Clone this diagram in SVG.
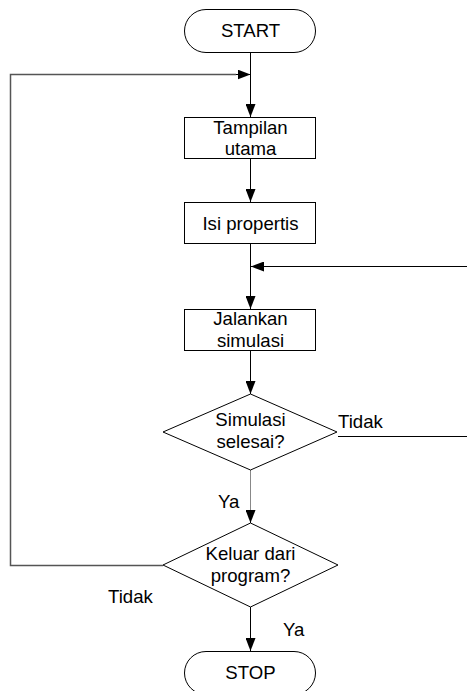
<svg xmlns="http://www.w3.org/2000/svg" width="467" height="691" viewBox="0 0 467 691">
<style>
.shape{fill:#fff;stroke:#000;stroke-width:1}
.t{font-family:"Liberation Sans",Arial,sans-serif;font-size:18.6px;fill:#000}
.c{text-anchor:middle}
.ln{fill:none;stroke:#000;stroke-width:1}
.gray{fill:none;stroke:#555;stroke-width:1.5}
.thin{fill:none;stroke:#888;stroke-width:1}
</style>
<defs>
<marker id="ah" markerUnits="userSpaceOnUse" markerWidth="13" markerHeight="10" refX="13" refY="5" orient="auto">
<path d="M0,0 L13,5 L0,10 z" fill="#000"/>
</marker>
</defs>
<g id="connectors">
<line class="ln" x1="250.5" y1="53" x2="250.5" y2="117" marker-end="url(#ah)"/>
<path class="gray" d="M163,565.5 H10.5 V74.5 H236"/>
<line class="ln" x1="236" y1="74.5" x2="250.5" y2="74.5" marker-end="url(#ah)"/>
<line class="ln" x1="250.5" y1="159" x2="250.5" y2="202" marker-end="url(#ah)"/>
<line class="ln" x1="250.5" y1="244" x2="250.5" y2="309" marker-end="url(#ah)"/>
<line class="ln" x1="467" y1="266.5" x2="251" y2="266.5" marker-end="url(#ah)"/>
<line class="ln" x1="250.5" y1="351" x2="250.5" y2="394" marker-end="url(#ah)"/>
<line class="ln" x1="338" y1="436.5" x2="467" y2="436.5"/>
<line class="thin" x1="250.5" y1="470" x2="250.5" y2="512"/>
<line class="ln" x1="250.5" y1="510" x2="250.5" y2="523" marker-end="url(#ah)"/>
<line class="ln" x1="250.5" y1="607" x2="250.5" y2="651" marker-end="url(#ah)"/>
<text class="t" x="338" y="427.5">Tidak</text>
<text class="t" x="218" y="507.5">Ya</text>
<text class="t" x="108" y="602.5">Tidak</text>
<text class="t" x="283" y="636">Ya</text>
</g>
<g id="start">
<rect class="shape" x="184.5" y="9.5" width="131" height="43" rx="21.5"/>
<text class="t c" x="250.5" y="37">START</text>
</g>
<g id="tampilan">
<rect class="shape" x="184.5" y="117.5" width="131" height="41"/>
<text class="t c" x="250.5" y="133.5">Tampilan</text>
<text class="t c" x="250.5" y="155">utama</text>
</g>
<g id="isi">
<rect class="shape" x="184.5" y="202.5" width="131" height="41"/>
<text class="t c" x="250.5" y="229.5">Isi propertis</text>
</g>
<g id="jalankan">
<rect class="shape" x="184.5" y="309.5" width="131" height="41"/>
<text class="t c" x="250.5" y="325">Jalankan</text>
<text class="t c" x="250.5" y="347">simulasi</text>
</g>
<g id="selesai">
<polygon class="shape" points="250.5,394 337,432 250.5,470 163,432"/>
<text class="t c" x="250.5" y="425.5">Simulasi</text>
<text class="t c" x="250.5" y="448">selesai?</text>
</g>
<g id="keluar">
<polygon class="shape" points="250.5,523 338,565 250.5,607 163,565"/>
<text class="t c" x="250.5" y="560">Keluar dari</text>
<text class="t c" x="250.5" y="582">program?</text>
</g>
<g id="stop">
<rect class="shape" x="184.5" y="651.5" width="131" height="43" rx="21.5"/>
<text class="t c" x="250.5" y="679">STOP</text>
</g>
</svg>
